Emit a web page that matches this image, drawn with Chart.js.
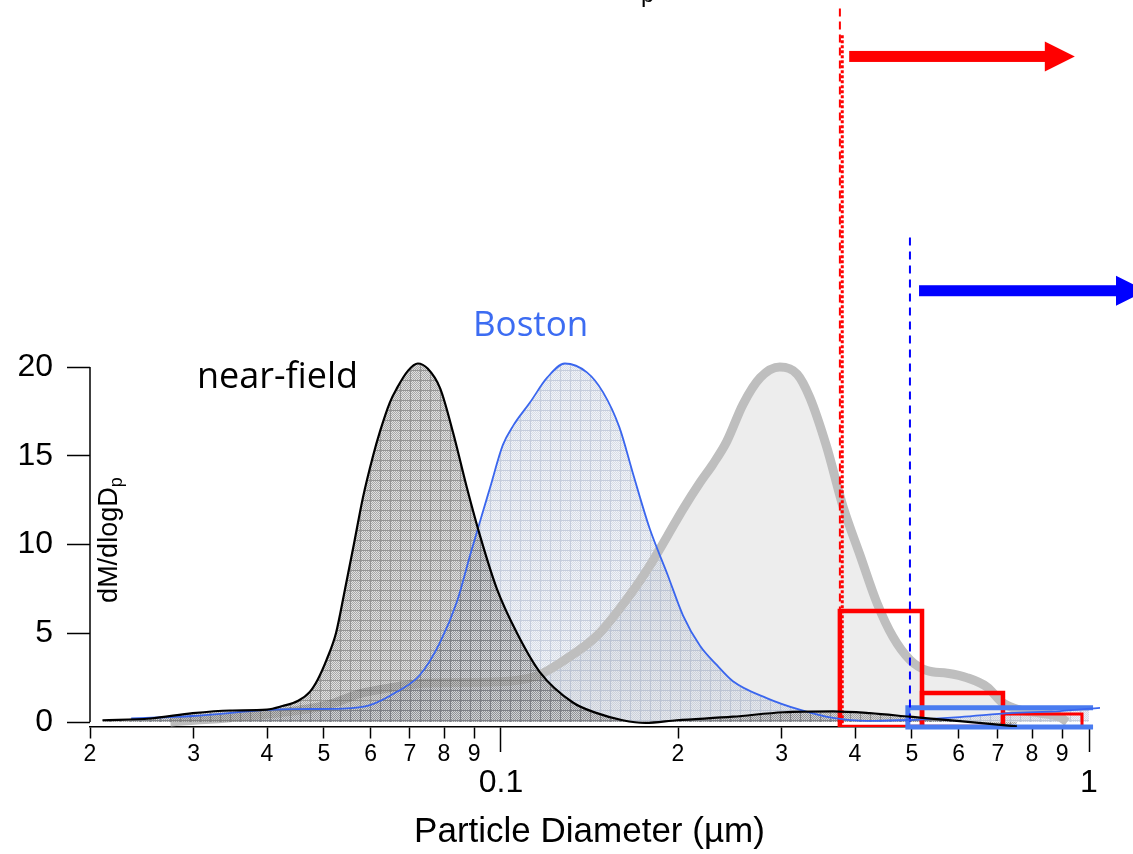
<!DOCTYPE html>
<html>
<head>
<meta charset="utf-8">
<script src="https://cdn.jsdelivr.net/npm/chart.js@4.4.1/dist/chart.umd.min.js"></script>
<style>
  html, body { margin: 0; padding: 0; background: #fff; }
  canvas { display: block; }
</style>
</head>
<body>
<canvas id="massDist" width="1133" height="854"></canvas>
<script>
// particle diameter (µm) and dM/dlogDp for each size distribution
const nearFieldDp = [0.0210, 0.0253, 0.0299, 0.0346, 0.0400, 0.0425, 0.0452, 0.0473, 0.0488, 0.0505, 0.0524, 0.0543, 0.0562, 0.0582, 0.0606, 0.0623, 0.0647, 0.0665, 0.0695, 0.0722, 0.0751, 0.0788, 0.0829, 0.0875, 0.0921, 0.0984, 0.1065, 0.1165, 0.1325, 0.1456, 0.161, 0.176, 0.199, 0.248, 0.302, 0.367, 0.424, 0.496, 0.603, 0.754];
const nearFieldMass = [0.1, 0.2, 0.5, 0.65, 0.7, 0.9, 1.2, 1.7, 2.4, 3.5, 5.0, 7.5, 10.0, 12.6, 15.0, 16.4, 18.0, 18.8, 19.8, 20.2, 19.9, 18.8, 16.3, 13.2, 10.5, 7.5, 5.0, 2.8, 1.1, 0.5, 0.1, -0.05, 0.1, 0.3, 0.55, 0.6, 0.5, 0.3, 0.05, -0.25];

const bostonDp = [0.0235, 0.0299, 0.0400, 0.0443, 0.0539, 0.0599, 0.0665, 0.0728, 0.0788, 0.0842, 0.0886, 0.0921, 0.0958, 0.1007, 0.1049, 0.112, 0.1198, 0.1284, 0.140, 0.149, 0.159, 0.168, 0.179, 0.192, 0.204, 0.218, 0.233, 0.248, 0.283, 0.323, 0.367, 0.419, 0.477, 0.603, 0.734, 0.892, 1.044];
const bostonMass = [0.2, 0.34, 0.68, 0.73, 0.76, 0.95, 1.7, 2.65, 4.5, 6.8, 9.4, 11.3, 13.2, 15.6, 16.7, 18.0, 19.4, 20.2, 19.7, 18.6, 16.6, 13.9, 10.9, 8.3, 6.0, 4.3, 3.2, 2.3, 1.35, 0.68, 0.23, 0.06, 0.1, 0.28, 0.5, 0.62, 0.8];

const ambientDp = [0.0274, 0.0389, 0.0506, 0.0576, 0.0655, 0.0748, 0.097, 0.115, 0.127, 0.146, 0.166, 0.179, 0.192, 0.204, 0.218, 0.229, 0.242, 0.258, 0.276, 0.298, 0.319, 0.335, 0.358, 0.382, 0.408, 0.436, 0.464, 0.496, 0.530, 0.574, 0.620, 0.671, 0.714, 0.763, 0.825, 0.893, 0.918];
const ambientMass = [0.0, 0.4, 0.95, 1.6, 1.95, 2.2, 2.25, 2.6, 3.4, 4.9, 7.2, 8.8, 10.5, 12.0, 13.5, 14.5, 15.8, 17.9, 19.4, 20.0, 19.6, 18.3, 15.5, 12.1, 9.4, 6.7, 4.8, 3.5, 2.9, 2.75, 2.5, 1.97, 1.07, 0.68, 0.5, 0.28, 0.0];

// histogram bins: edges (µm) and heights
const redBinEdges = [0.377, 0.520, 0.714, 0.973];
const redBinHeights = [6.25, 1.63, 0.45];
const blueBinEdges = [0.492, 1.016];
const blueBinHeights = [0.8];

// cut sizes (dashed markers) and the arrows pointing to larger sizes
const redCut = { dp: 0.377, top: 40.2 };
const redCutDotted = { dp: 0.3805, top: 38.7 };
const blueCut = { dp: 0.496, top: 27.3 };
const redArrow = { from: 0.391, to: 0.946, level: 37.5 };
const blueArrow = { from: 0.514, to: 1.25, level: 24.3 };

// axes
const xTickValues = [0.02, 0.03, 0.04, 0.05, 0.06, 0.07, 0.08, 0.09, 0.1, 0.2, 0.3, 0.4, 0.5, 0.6, 0.7, 0.8, 0.9, 1];
const xTickLabels = ['2', '3', '4', '5', '6', '7', '8', '9', '0.1', '2', '3', '4', '5', '6', '7', '8', '9', '1'];
const xMajorTicks = [0.1, 1];
const yTickValues = [0, 5, 10, 15, 20];
const yMin = -0.28;
const yMax = 40.68;

Chart.defaults.font.family = "'Liberation Sans', Arial, sans-serif";
Chart.defaults.color = '#000';

const canvas = document.getElementById('massDist');
const g = canvas.getContext('2d');

// fine cross-hatch used for the filled distributions
function hatch(dot, alt, line) {
    const tile = document.createElement('canvas');
    tile.width = 10;
    tile.height = 10;
    const t = tile.getContext('2d');
    for (let i = 0; i < 10; i++) {
        for (let j = 0; j < 10; j++) {
            t.fillStyle = (i === 0 || j === 0) ? line : ((i + j) % 2 ? alt : dot);
            t.fillRect(i, j, 1, 1);
        }
    }
    return g.createPattern(tile, 'repeat');
}

const nearFieldPattern = hatch('rgba(100,100,100,0.56)', 'rgba(185,185,185,0.45)', 'rgba(90,90,90,0.65)');
const bostonPattern = hatch('rgba(150,165,190,0.38)', 'rgba(215,222,234,0.35)', 'rgba(140,155,185,0.5)');

const pts = (xs, ys) => xs.map((x, i) => ({ x: x, y: ys[i] }));

function binOutline(edges, heights, i) {
    return [
        { x: edges[i], y: yMin },
        { x: edges[i], y: heights[i] },
        { x: edges[i + 1], y: heights[i] },
        { x: edges[i + 1], y: yMin },
        { x: edges[i], y: yMin }
    ];
}

const clear = 'rgba(0,0,0,0)';

const overlay = {
    id: 'overlay',
    beforeDatasetsDraw(chart) {
        const { ctx, chartArea, scales: { y } } = chart;
        // y axis line only covers the labelled 0-20 range
        ctx.save();
        ctx.strokeStyle = '#000';
        ctx.lineWidth = 1.5;
        ctx.beginPath();
        ctx.moveTo(chartArea.left, y.getPixelForValue(yTickValues[0]));
        ctx.lineTo(chartArea.left, y.getPixelForValue(yTickValues[yTickValues.length - 1]));
        ctx.stroke();
        ctx.restore();
    },
    afterDatasetsDraw(chart) {
        const { ctx, chartArea, scales: { x, y } } = chart;
        ctx.save();

        function arrow(a, color) {
            const x0 = x.getPixelForValue(a.from);
            const x1 = x.getPixelForValue(a.to);
            const yy = y.getPixelForValue(a.level);
            ctx.fillStyle = color;
            ctx.fillRect(x0, yy - 5.5, x1 - 29 - x0, 11);
            ctx.beginPath();
            ctx.moveTo(x1 - 30, yy - 15);
            ctx.lineTo(x1, yy);
            ctx.lineTo(x1 - 30, yy + 15);
            ctx.closePath();
            ctx.fill();
        }
        arrow(redArrow, '#ff0000');
        arrow(blueArrow, '#0000ff');

        // y axis title, drawn just inside the axis
        ctx.save();
        ctx.translate(chartArea.left + 27, y.getPixelForValue(10.25));
        ctx.rotate(-Math.PI / 2);
        ctx.fillStyle = '#000';
        ctx.textBaseline = 'alphabetic';
        ctx.font = "27px 'Liberation Sans', Arial, sans-serif";
        const main = 'dM/dlogD';
        const wMain = ctx.measureText(main).width;
        ctx.font = "18px 'Liberation Sans', Arial, sans-serif";
        const wSub = ctx.measureText('p').width;
        const start = -(wMain + wSub) / 2;
        ctx.font = "27px 'Liberation Sans', Arial, sans-serif";
        ctx.fillText(main, start, 0);
        ctx.font = "18px 'Liberation Sans', Arial, sans-serif";
        ctx.fillText('p', start + wMain, 5);
        ctx.restore();

        // curve labels
        ctx.font = "36px 'Open Sans', sans-serif";
        ctx.textBaseline = 'alphabetic';
        ctx.fillStyle = '#000';
        ctx.fillText('near-field', 197, 388);
        ctx.fillStyle = '#3c6cf2';
        ctx.font = "35px 'Open Sans', sans-serif";
        ctx.fillText('Boston', 473, 336);

        // heading text running off the top edge
        ctx.fillStyle = '#000';
        ctx.font = "24px 'Liberation Sans', Arial, sans-serif";
        ctx.fillText('p', 641, 2);

        ctx.restore();
    }
};

new Chart(canvas, {
    type: 'line',
    data: {
        datasets: [
            {
                label: 'ambient fill',
                data: pts(ambientDp, ambientMass),
                fill: 'origin',
                backgroundColor: '#ededed',
                borderColor: clear,
                borderWidth: 1,
                cubicInterpolationMode: 'monotone',
                order: 20
            },
            {
                label: 'Boston fill',
                data: pts(bostonDp, bostonMass),
                fill: 'origin',
                backgroundColor: bostonPattern,
                borderColor: clear,
                borderWidth: 1,
                cubicInterpolationMode: 'monotone',
                order: 19
            },
            {
                label: 'ambient',
                data: pts(ambientDp, ambientMass),
                fill: false,
                borderColor: '#bebebe',
                borderWidth: 9,
                borderJoinStyle: 'round',
                cubicInterpolationMode: 'monotone',
                order: 18
            },
            {
                label: 'near-field fill',
                data: pts(nearFieldDp, nearFieldMass),
                fill: 'origin',
                backgroundColor: nearFieldPattern,
                borderColor: clear,
                borderWidth: 1,
                cubicInterpolationMode: 'monotone',
                order: 17
            },
            {
                label: 'red cut',
                data: [{ x: redCut.dp, y: redCut.top }, { x: redCut.dp, y: yMin }],
                borderColor: '#ff0000',
                borderWidth: 2,
                borderDash: [8, 5],
                fill: false,
                order: 14
            },
            {
                label: 'red cut dotted',
                data: [{ x: redCutDotted.dp, y: redCutDotted.top }, { x: redCutDotted.dp, y: yMin }],
                borderColor: '#ff0000',
                borderWidth: 3,
                borderDash: [3, 2],
                fill: false,
                order: 14
            },
            ...redBinHeights.map((h, i) => ({
                label: 'red bin ' + i,
                data: binOutline(redBinEdges, redBinHeights, i),
                borderColor: '#ff0000',
                borderWidth: i === 2 ? 3 : 4.5,
                borderJoinStyle: 'miter',
                fill: false,
                tension: 0,
                order: 13
            })),
            {
                label: 'blue bin',
                data: [
                    { x: blueBinEdges[1], y: yMin },
                    { x: blueBinEdges[0], y: yMin },
                    { x: blueBinEdges[0], y: blueBinHeights[0] },
                    { x: blueBinEdges[1], y: blueBinHeights[0] }
                ],
                borderColor: '#4a7cf0',
                borderWidth: 5,
                fill: false,
                tension: 0,
                clip: false,
                order: 12
            },
            {
                label: 'blue cut',
                data: [{ x: blueCut.dp, y: blueCut.top }, { x: blueCut.dp, y: yMin }],
                borderColor: '#0000ff',
                borderWidth: 2,
                borderDash: [8, 6],
                fill: false,
                order: 11
            },
            {
                label: 'Boston',
                data: pts(bostonDp, bostonMass),
                fill: false,
                borderColor: '#3a66ee',
                borderWidth: 1.8,
                cubicInterpolationMode: 'monotone',
                clip: false,
                order: 5
            },
            {
                label: 'near-field',
                data: pts(nearFieldDp, nearFieldMass),
                fill: false,
                borderColor: '#000',
                borderWidth: 2.2,
                cubicInterpolationMode: 'monotone',
                order: 4
            }
        ]
    },
    options: {
        responsive: false,
        animation: false,
        events: [],
        elements: {
            point: { radius: 0 }
        },
        layout: {
            padding: { left: 0, right: 44, top: 0, bottom: 0 }
        },
        scales: {
            x: {
                type: 'logarithmic',
                min: 0.02,
                max: 1,
                afterBuildTicks: (scale) => {
                    scale.ticks = xTickValues.map(v => ({ value: v, major: xMajorTicks.includes(v) }));
                },
                afterFit: (scale) => {
                    scale.height = 127;
                    scale.paddingLeft = 0;
                    scale.paddingRight = 0;
                },
                border: { display: true, color: '#000', width: 1.5 },
                grid: {
                    drawOnChartArea: false,
                    drawTicks: true,
                    tickLength: 25,
                    tickColor: '#000',
                    tickWidth: 1.5,
                    tickBorderDash: (ctx) => (ctx.tick && ctx.tick.major) ? [] : [11, 40]
                },
                ticks: {
                    autoSkip: false,
                    maxRotation: 0,
                    padding: -11,
                    major: { enabled: true },
                    font: (ctx) => (ctx.tick && ctx.tick.major)
                        ? { size: 32, lineHeight: 0.88 }
                        : { size: 23 },
                    callback: (value, index) => {
                        const label = xTickLabels[index];
                        return xMajorTicks.includes(xTickValues[index]) ? ['', label] : label;
                    }
                },
                title: {
                    display: true,
                    text: 'Particle Diameter (µm)',
                    font: { size: 35 },
                    padding: { top: 0, bottom: 1 }
                }
            },
            y: {
                type: 'linear',
                min: yMin,
                max: yMax,
                afterBuildTicks: (scale) => {
                    scale.ticks = yTickValues.map(v => ({ value: v }));
                },
                afterFit: (scale) => {
                    scale.width = 90;
                    scale.paddingTop = 0;
                    scale.paddingBottom = 0;
                },
                border: { display: false },
                grid: {
                    drawOnChartArea: false,
                    drawTicks: true,
                    tickLength: 23,
                    tickColor: '#000',
                    tickWidth: 1.5
                },
                ticks: {
                    autoSkip: false,
                    padding: 14,
                    font: { size: 32 }
                }
            }
        },
        plugins: {
            legend: { display: false },
            tooltip: { enabled: false },
            title: { display: false }
        }
    },
    plugins: [overlay]
});
</script>
</body>
</html>
